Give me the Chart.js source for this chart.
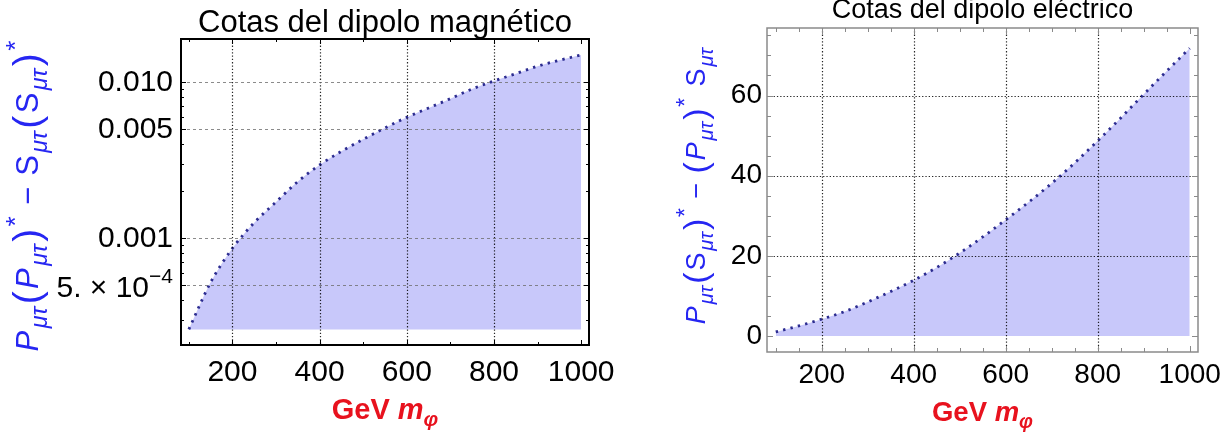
<!DOCTYPE html>
<html><head><meta charset="utf-8">
<script src="https://cdn.jsdelivr.net/npm/chart.js@4"></script>
<style>
html,body{margin:0;padding:0;background:#fff;width:1229px;height:441px;overflow:hidden;position:relative}
.w{position:absolute;top:0;height:441px}
#w1{left:0;width:650px;z-index:2}
#w2{left:614px;width:615px;z-index:1}
canvas{display:block}
</style></head><body>
<div class="w" id="w1"><canvas id="c1" width="650" height="441"></canvas></div>
<div class="w" id="w2"><canvas id="c2" width="615" height="441"></canvas></div>
<script>
// ---- data ----
const M_PHI = [100,150,200,250,300,350,400,450,500,550,600,650,700,750,800,850,900,950,1000];
const MAG_BOUND = [2.61e-4,5.22e-4,8.63e-4,1.26e-3,1.71e-3,2.31e-3,2.95e-3,3.61e-3,4.31e-3,5.10e-3,5.97e-3,6.84e-3,7.85e-3,9.06e-3,1.02e-2,1.136e-2,1.268e-2,1.384e-2,1.496e-2];
const MAG_FILL_BASE = 2.6e-4;
const ELEC_BOUND = [1.0,2.5,4.2,6.1,8.5,11.1,13.9,17.1,20.7,24.7,29.0,33.4,38.1,43.2,48.7,54.4,60.3,66.1,71.8];
const X_TICKS = [200,400,600,800,1000];
const X_GRID = [200,400,600,800];
const MAG_Y_TICKS = [5e-4,0.001,0.005,0.010];
const MAG_Y_LABELS = ['5. × 10','0.001','0.005','0.010'];
const MAG_Y_EXP = ['−4','','',''];
const ELEC_Y_TICKS = [0,20,40,60];
const ELEC_Y_LABELS = ['0','20','40','60'];
const ELEC_Y_GRID = [20,40,60];
const TITLES = ['Cotas del dipolo magnético','Cotas del dipolo eléctrico'];
const X_TITLE = [{t:'GeV ',b:true},{t:'m',b:true,it:true},{t:'φ',b:true,it:true,sc:0.72,dy:0.25}];
const SUB = {it:true,sc:0.75,dy:0.3};
const STAR = {sc:0.85,dy:-0.45};
const PL = {t:'(',sc:1.25,dy:0.08}, PR = {t:')',sc:1.25,dy:0.08};
const Y_TITLE_MAG = [{t:'P',it:true},{t:'μτ',...SUB},PL,{t:'P',it:true},{t:'μτ',...SUB},PR,{t:'*',...STAR},{t:' − '},{t:'S'},{t:'μτ',...SUB},PL,{t:'S'},{t:'μτ',...SUB},PR,{t:'*',...STAR}];
const Y_TITLE_ELEC = [{t:'P',it:true},{t:'μτ',...SUB},PL,{t:'S'},{t:'μτ',...SUB},PR,{t:'*',...STAR},{t:' − '},PL,{t:'P',it:true},{t:'μτ',...SUB},PR,{t:'*',...STAR},{t:' '},{t:'S'},{t:'μτ',...SUB}];

const FAM = "'Liberation Sans', Arial, Helvetica, sans-serif";
const FILL = 'rgb(200,200,250)';
const DOTS = '#2c2c90';

function fontOf(s, base){
  return (s.it?'italic ':'')+(s.b?'bold ':'')+Math.round(base*(s.sc||1)*10)/10+'px '+FAM;
}
function drawRich(ctx, segs, base, color, cx, cy, rot, gap){
  gap = (gap||0)*base;
  ctx.save();
  ctx.translate(cx, cy);
  if (rot) ctx.rotate(-Math.PI/2);
  let total = 0;
  const ws = segs.map(s => { ctx.font = fontOf(s, base); return ctx.measureText(s.t).width; });
  ws.forEach(w => total += w);
  total += gap*(segs.length-1);
  let x0 = -total/2;
  ctx.fillStyle = color; ctx.textBaseline = 'alphabetic'; ctx.textAlign = 'left';
  segs.forEach((s,i) => { ctx.font = fontOf(s, base); ctx.fillText(s.t, x0, (s.dy||0)*base); x0 += ws[i] + gap; });
  ctx.restore();
}

function decor(o){
  return {
    id: 'decor'+o.key,
    afterDatasetsDraw(chart){
      const {ctx, chartArea:a, scales:{x,y}} = chart;
      ctx.save();
      ctx.lineWidth = o.vW; ctx.strokeStyle = o.vColor; ctx.setLineDash(o.vDash);
      o.vGrid.forEach(v => { const px = Math.round(x.getPixelForValue(v))+0.5; ctx.beginPath(); ctx.moveTo(px,a.top); ctx.lineTo(px,a.bottom); ctx.stroke(); });
      ctx.lineWidth = o.hW; ctx.strokeStyle = o.hColor; ctx.setLineDash(o.hDash);
      o.hGrid.forEach(v => { const py = Math.round(y.getPixelForValue(v))+0.5; ctx.beginPath(); ctx.moveTo(a.left,py); ctx.lineTo(a.right,py); ctx.stroke(); });
      ctx.setLineDash([]);
      ctx.strokeStyle = o.frameColor; ctx.lineWidth = 1;
      const tk = (list, len) => {
        list.forEach(v => {
          const px = Math.round(x.getPixelForValue(v))+0.5;
          if (px < a.left || px > a.right) return;
          ctx.beginPath(); ctx.moveTo(px,a.bottom); ctx.lineTo(px,a.bottom-len); ctx.moveTo(px,a.top); ctx.lineTo(px,a.top+len); ctx.stroke();
        });
      };
      const tky = (list, len) => {
        list.forEach(v => {
          const py = Math.round(y.getPixelForValue(v))+0.5;
          if (py < a.top || py > a.bottom) return;
          ctx.beginPath(); ctx.moveTo(a.left,py); ctx.lineTo(a.left+len,py); ctx.moveTo(a.right,py); ctx.lineTo(a.right-len,py); ctx.stroke();
        });
      };
      tk(o.xMinor, o.minLen); tk(X_TICKS, o.majLen);
      tky(o.yMinor, o.minLen); tky(o.yMajor, o.majLen);
      ctx.lineWidth = o.frameW; ctx.strokeStyle = o.frameColor;
      ctx.strokeRect(a.left, a.top, a.right-a.left, a.bottom-a.top);
      ctx.restore();
    },
    afterDraw(chart){
      const {ctx, chartArea:a} = chart;
      const cx = (a.left+a.right)/2, cy = (a.top+a.bottom)/2;
      ctx.save();
      ctx.font = o.titleSize+'px '+FAM; ctx.fillStyle = '#000'; ctx.textAlign='center'; ctx.textBaseline='alphabetic';
      ctx.fillText(o.title, cx, o.titleY);
      ctx.restore();
      drawRich(ctx, X_TITLE, o.xtSize, '#e8121e', cx, o.xtY, false, 0);
      drawRich(ctx, o.yTitle, o.ytSize, '#2626f2', o.ytX, cy + (o.ytDy||0), true, o.ytGap);
      if (o.extra) o.extra(chart);
    }
  };
}

function lineDs(data, fill){
  return {
    data: M_PHI.map((m,i)=>({x:m, y:data[i]})),
    borderColor: DOTS, borderWidth: 2.8, borderDash: [2.4,5.2], borderCapStyle: 'butt',
    pointRadius: 0, cubicInterpolationMode: 'monotone',
    fill: fill, backgroundColor: FILL
  };
}

function xScale(min, max, size, pad, h){
  return {
    type:'linear', min:min, max:max,
    afterBuildTicks: s => { s.ticks = X_TICKS.map(v=>({value:v})); },
    afterFit: s => { s.height = h; },
    grid:{display:false, drawTicks:false}, border:{display:false},
    ticks:{color:'#000', font:{family:FAM, size:size}, padding:pad, maxRotation:0, autoSkip:false,
      callback: v => String(v)}
  };
}

// ---- left chart: magnetic dipole bounds (log scale) ----
const minorMagY = [];
[1e-4,1e-3,1e-2].forEach(d => { for (let k=2;k<=9;k++) minorMagY.push(k*d); });
const minorX = []; for (let v=100; v<=1000; v+=100) minorX.push(v);

new Chart(document.getElementById('c1'), {
  type:'line',
  data:{datasets:[lineDs(MAG_BOUND, {value: MAG_FILL_BASE})]},
  options:{
    responsive:false, animation:false, devicePixelRatio:1,
    layout:{padding:{left:0,right:61,top:39,bottom:0}},
    plugins:{legend:{display:false}, tooltip:{enabled:false}, title:{display:false}},
    scales:{
      x: xScale(82, 1018, 30, 10, 96),
      y: {
        type:'logarithmic', min:2.07e-4, max:0.01895,
        afterBuildTicks: s => { s.ticks = MAG_Y_TICKS.map(v=>({value:v})); },
        afterFit: s => { s.width = 181; },
        grid:{display:false, drawTicks:false}, border:{display:false},
        ticks:{color:'#000', font:{family:FAM, size:30}, padding:8, autoSkip:false,
          callback: (v,i) => MAG_Y_EXP[i] ? '' : MAG_Y_LABELS[i]}
      }
    }
  },
  plugins:[decor({
    key:1, title:TITLES[0], titleSize:31, titleY:32, xtSize:29, xtY:419, ytSize:31, ytX:38, ytGap:0.08, ytDy:4, yTitle:Y_TITLE_MAG,
    vGrid:X_GRID, vW:1.2, vColor:'rgba(0,0,0,0.85)', vDash:[1.3,2],
    hGrid:MAG_Y_TICKS, hW:1, hColor:'rgba(110,110,110,0.8)', hDash:[3,3],
    frameColor:'#000', frameW:2, xMinor:minorX, yMinor:minorMagY, yMajor:MAG_Y_TICKS, minLen:3, majLen:5,
    extra(chart){
      const {ctx, scales:{y}} = chart;
      MAG_Y_TICKS.forEach((v,i) => {
        if (!MAG_Y_EXP[i]) return;
        const py = y.getPixelForValue(v);
        const right = y.right - 8;
        ctx.save(); ctx.fillStyle='#000'; ctx.textBaseline='alphabetic'; ctx.textAlign='right';
        ctx.font = '21px '+FAM; const ew = ctx.measureText(MAG_Y_EXP[i]).width;
        ctx.fillText(MAG_Y_EXP[i], right, py - 2);
        ctx.font = '30px '+FAM; ctx.fillText(MAG_Y_LABELS[i], right - ew, py + 12);
        ctx.restore();
      });
    }
  })]
});

// ---- right chart: electric dipole bounds ----
const minorEX = []; for (let v=100; v<=1000; v+=50) minorEX.push(v);
const minorEY = []; for (let v=0; v<=75; v+=5) minorEY.push(v);

new Chart(document.getElementById('c2'), {
  type:'line',
  data:{datasets:[lineDs(ELEC_BOUND, 'origin')]},
  options:{
    responsive:false, animation:false, devicePixelRatio:1,
    layout:{padding:{left:0,right:31,top:28,bottom:0}},
    plugins:{legend:{display:false}, tooltip:{enabled:false}, title:{display:false}},
    scales:{
      x: xScale(81, 1018, 28, 6, 89),
      y: {
        type:'linear', min:-4, max:76.85,
        afterBuildTicks: s => { s.ticks = ELEC_Y_TICKS.map(v=>({value:v})); },
        afterFit: s => { s.width = 153; },
        grid:{display:false, drawTicks:false}, border:{display:false},
        ticks:{color:'#000', font:{family:FAM, size:28}, padding:5, autoSkip:false,
          callback: (v,i) => ELEC_Y_LABELS[i]}
      }
    }
  },
  plugins:[decor({
    key:2, title:TITLES[1], titleSize:27, titleY:18, xtSize:27.5, xtY:421, ytSize:27, ytX:91, ytGap:0.07, ytDy:-4, yTitle:Y_TITLE_ELEC,
    vGrid:X_GRID, vW:1.2, vColor:'rgba(0,0,0,0.85)', vDash:[1.3,2],
    hGrid:ELEC_Y_GRID, hW:1.2, hColor:'rgba(0,0,0,0.85)', hDash:[1.3,2],
    frameColor:'#8a8a8a', frameW:1.5, xMinor:minorEX, yMinor:minorEY, yMajor:ELEC_Y_TICKS, minLen:4, majLen:6
  })]
});
</script>
</body></html>
